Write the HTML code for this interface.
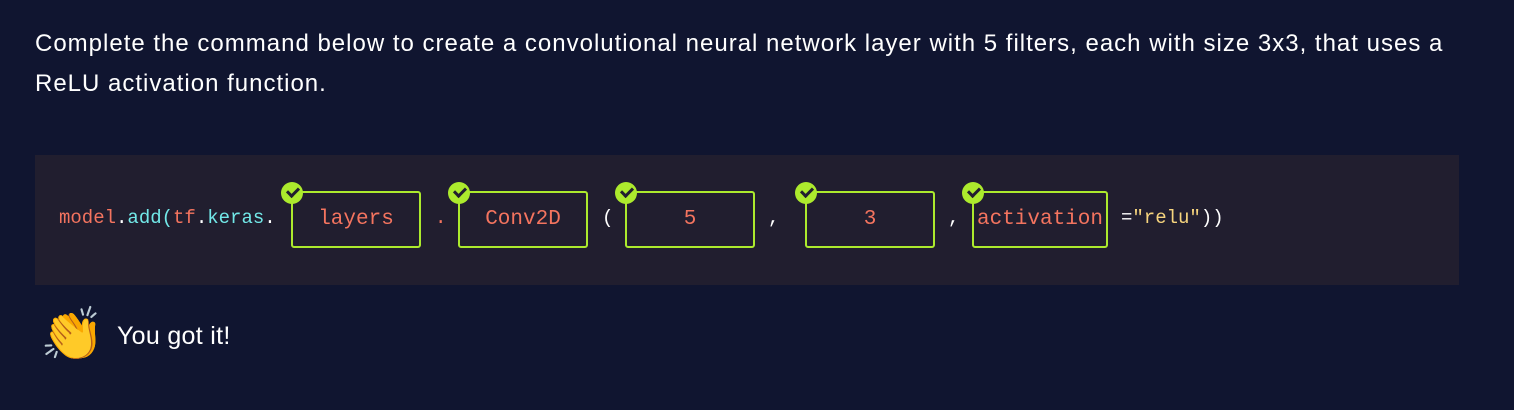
<!DOCTYPE html>
<html><head><meta charset="utf-8"><style>
body{margin:0;width:1514px;height:410px;background:#101530;font-family:"Liberation Sans",sans-serif;overflow:hidden;position:relative}
.q{position:absolute;left:35px;top:24px;color:#fff;font-size:24px;letter-spacing:1.0px;line-height:40px;width:1420px}
.code{position:absolute;left:35px;top:155px;width:1424px;height:130px;background:#211e2f}
.t{position:absolute;top:206px;font-family:"Liberation Mono",monospace;font-size:19px;line-height:24px;white-space:pre}
.r{color:#f4745f}.c{color:#72e8e8}.w{color:#fff}.y{color:#f7d57e}
.box{position:absolute;top:191px;height:53px;border:2.5px solid #acea2d;border-radius:3px;box-sizing:content-box;color:#f4745f;font-family:"Liberation Mono",monospace;font-size:21px;text-align:center;line-height:53px}
.chk{position:absolute;width:22px;height:22px;border-radius:50%;background:#acea2d;top:182px}
.chk:after{content:"";position:absolute;left:6px;top:5px;width:9px;height:5px;border-left:3px solid #211e2f;border-bottom:3px solid #211e2f;transform:rotate(-45deg)}
.msg{position:absolute;left:117px;top:322px;color:#fff;font-size:25px;letter-spacing:0.3px}
</style></head><body>
<div class="q">Complete the command below to create a convolutional neural network layer with 5 filters, each with size 3x3, that uses a ReLU activation function.</div>
<div class="code"></div>
<div class="t" style="left:59px"><span class="r">model</span><span class="w">.</span><span class="c">add(</span><span class="r">tf</span><span class="w">.</span><span class="c">keras</span><span class="w">.</span></div>
<div class="box" style="left:291px;width:126px">layers</div>
<div class="chk" style="left:281px"></div>
<div class="t r" style="left:435px">.</div>
<div class="box" style="left:458px;width:126px">Conv2D</div>
<div class="chk" style="left:448px"></div>
<div class="t w" style="left:602px">(</div>
<div class="box" style="left:625px;width:126px">5</div>
<div class="chk" style="left:615px"></div>
<div class="t w" style="left:768px">,</div>
<div class="box" style="left:805px;width:126px">3</div>
<div class="chk" style="left:795px"></div>
<div class="t w" style="left:948px">,</div>
<div class="box" style="left:972px;width:132px">activation</div>
<div class="chk" style="left:962px"></div>
<div class="t" style="left:1121px"><span class="w">=</span><span class="y">"relu"</span><span class="w">))</span></div>
<div style="position:absolute;left:40px;top:302px;font-size:52px;line-height:66px;font-family:'Noto Color Emoji','DejaVu Sans',sans-serif;color:#fbbf24">👏</div>
<div class="msg">You got it!</div>
</body></html>
